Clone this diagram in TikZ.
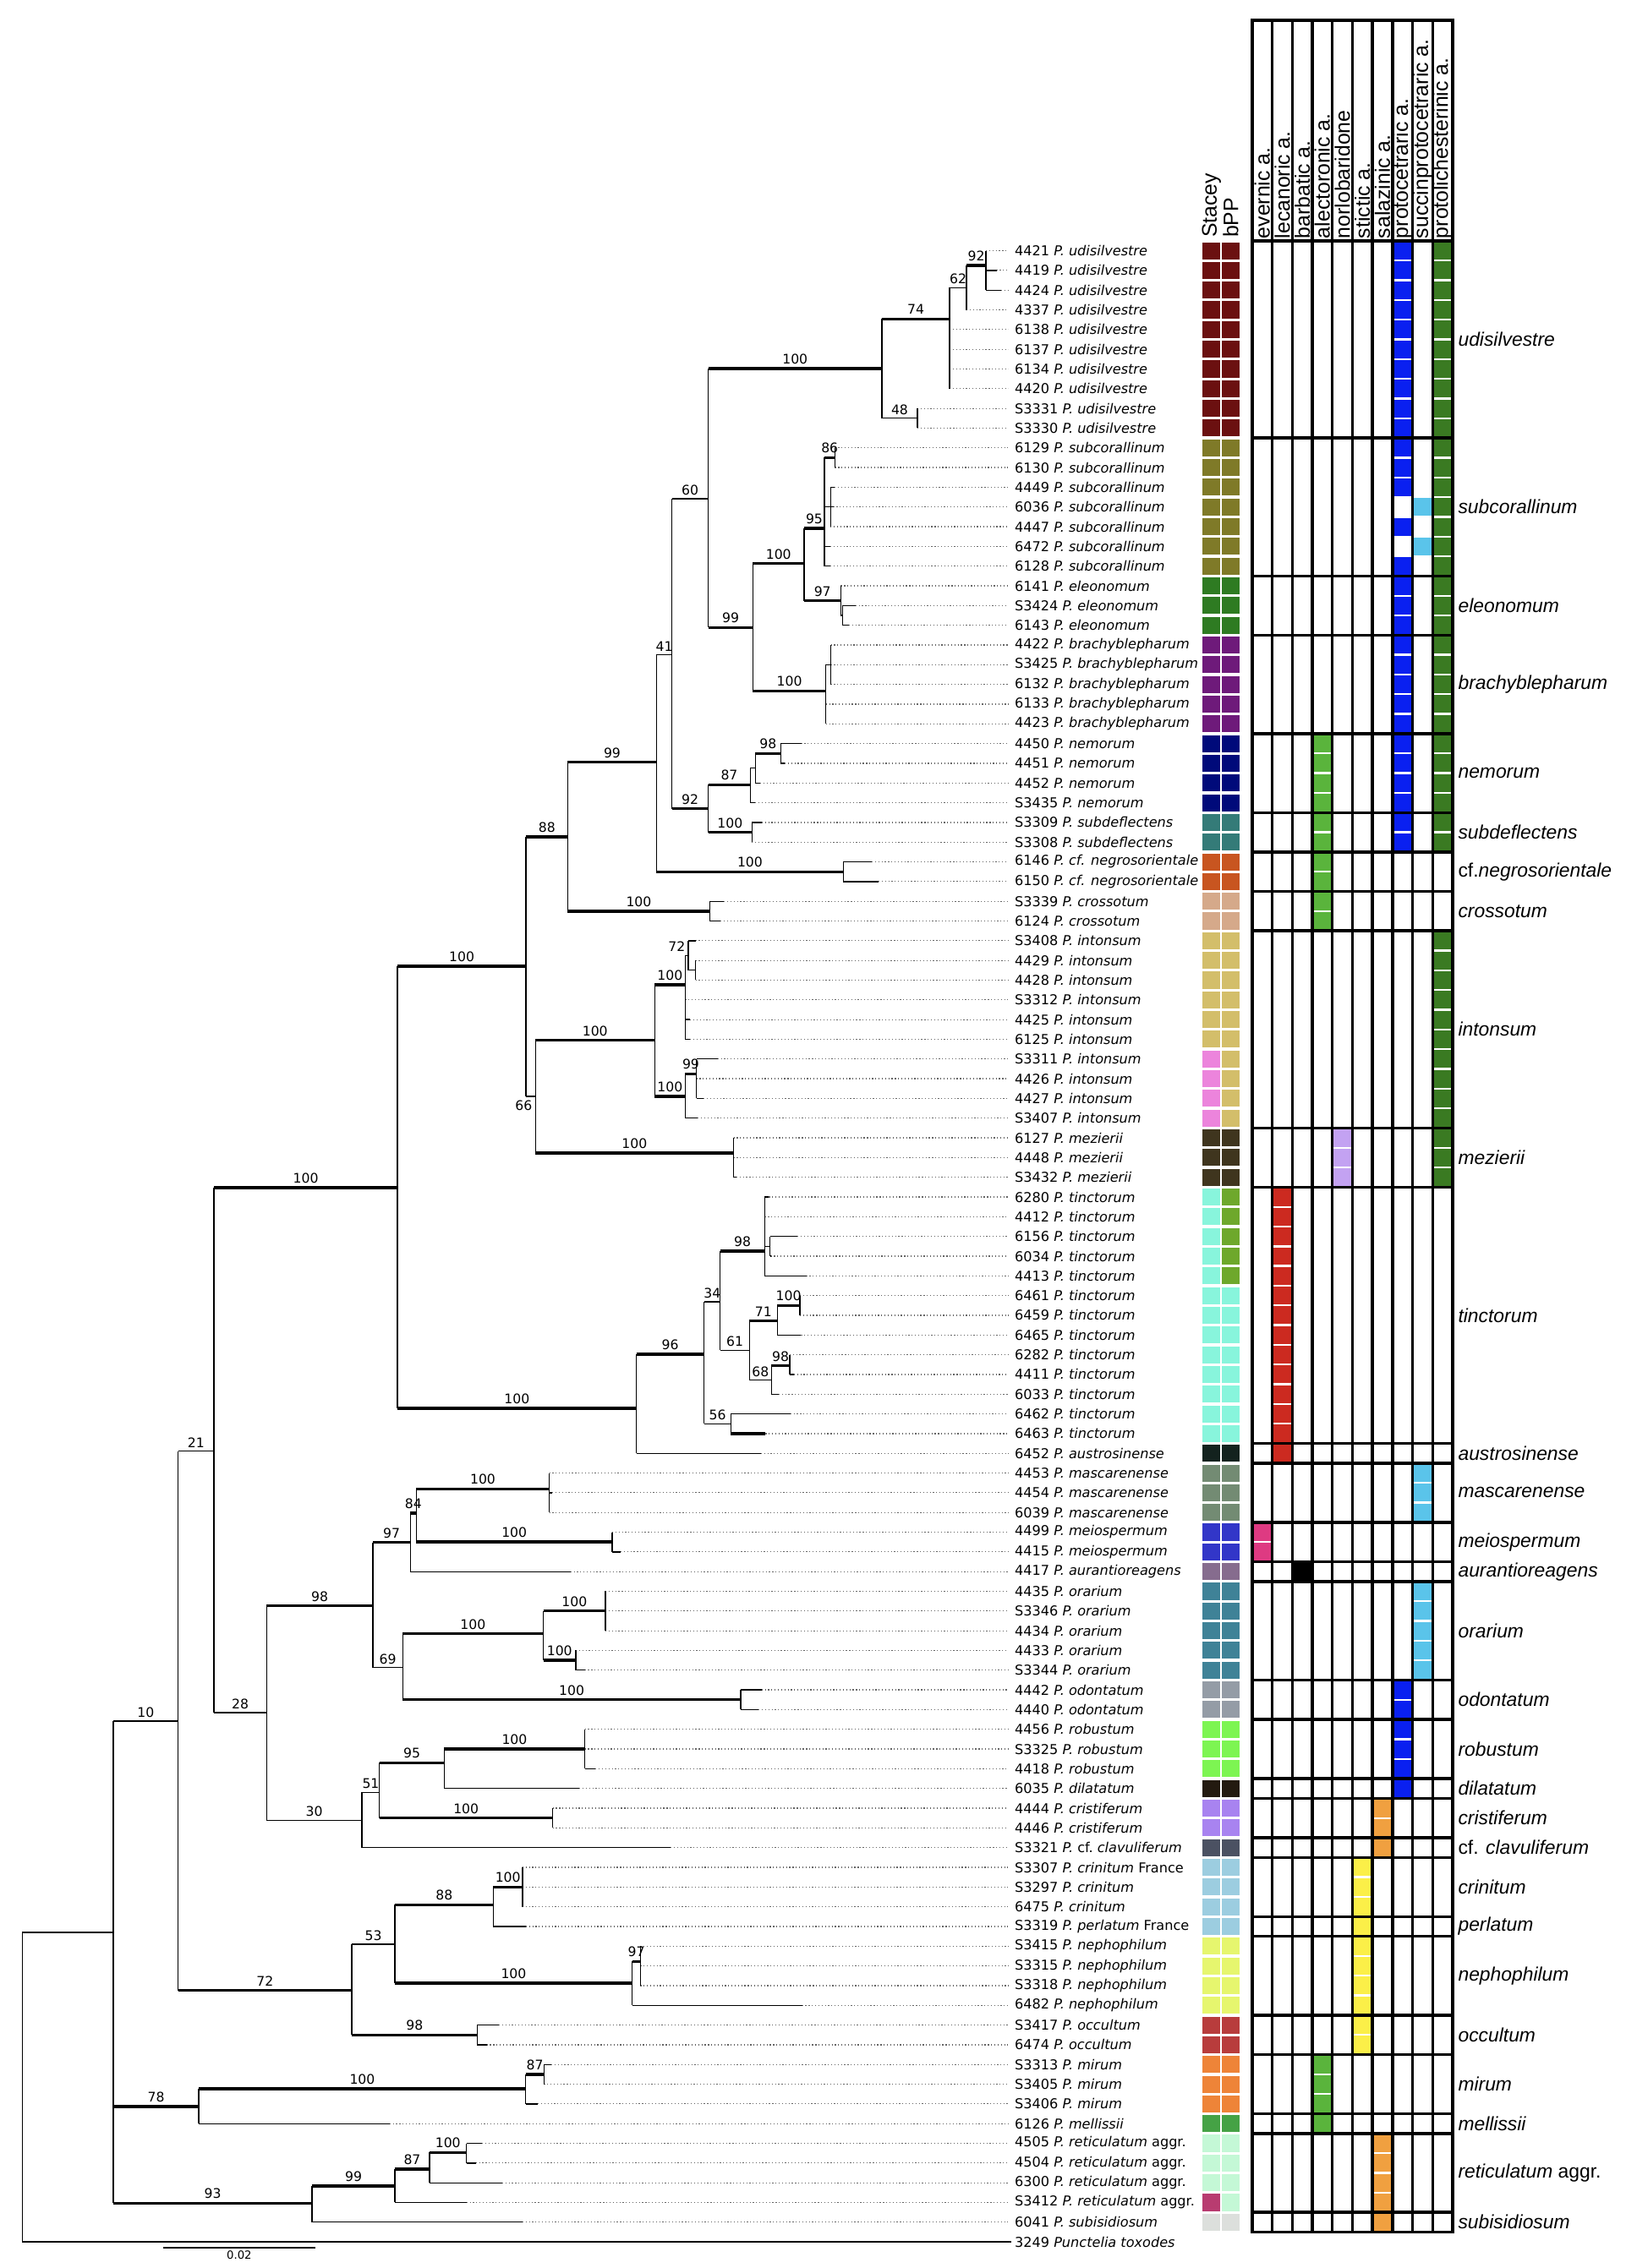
\documentclass[tikz,border=0pt]{standalone}
\usepackage{fontspec}
\setmainfont{DejaVu Sans}
\newfontfamily\lbfont{Liberation Sans}

% species colours (Stacey / bPP)
\definecolor{cUdi}{HTML}{6B1010}
\definecolor{cSubc}{HTML}{7F7A28}
\definecolor{cEleo}{HTML}{2E7B22}
\definecolor{cBrach}{HTML}{6E1A7A}
\definecolor{cNemo}{HTML}{000A7A}
\definecolor{cSubd}{HTML}{347B78}
\definecolor{cNegro}{HTML}{C85520}
\definecolor{cCross}{HTML}{D5A98A}
\definecolor{cInton}{HTML}{D3BE6A}
\definecolor{cIntonS}{HTML}{EC84DC}
\definecolor{cMez}{HTML}{3F351E}
\definecolor{cTinc}{HTML}{88F5DC}
\definecolor{cTincB}{HTML}{6EA82C}
\definecolor{cAustro}{HTML}{13221E}
\definecolor{cMasc}{HTML}{738B73}
\definecolor{cMeio}{HTML}{3236C8}
\definecolor{cAuran}{HTML}{866C8E}
\definecolor{cOrar}{HTML}{3F8297}
\definecolor{cOdont}{HTML}{949CA6}
\definecolor{cRobus}{HTML}{7DF552}
\definecolor{cDilat}{HTML}{231A10}
\definecolor{cCrist}{HTML}{A883F0}
\definecolor{cClav}{HTML}{4B5162}
\definecolor{cCrin}{HTML}{9CCDE0}
\definecolor{cNeph}{HTML}{E6F66E}
\definecolor{cOccul}{HTML}{B83C3C}
\definecolor{cMirum}{HTML}{EE8438}
\definecolor{cMell}{HTML}{45A245}
\definecolor{cReti}{HTML}{C4F8D6}
\definecolor{cRetiS}{HTML}{B83C70}
\definecolor{cSubis}{HTML}{DCDFDC}
% chemistry colours
\definecolor{cEver}{HTML}{DE3A82}
\definecolor{cLeca}{HTML}{CC2A20}
\definecolor{cAlec}{HTML}{5AB43C}
\definecolor{cNorlo}{HTML}{C3A2F2}
\definecolor{cStict}{HTML}{FBEF48}
\definecolor{cSalaz}{HTML}{F0A040}
\definecolor{cProto}{HTML}{0A20F0}
\definecolor{cSucc}{HTML}{5AC4EA}
\definecolor{cLich}{HTML}{3A7A22}

\tikzset{
  tree/.style={line width=0.55pt, black},
  strong/.style={line width=1.4pt, black},
  bs/.style={above, inner sep=1.5pt, font=\fontsize{6.5}{7}\selectfont},
  dots/.style={black!60, line width=0.5pt, dash pattern=on 0.5pt off 1.1pt, shorten >=1.5pt},
  leaf/.style={anchor=west, inner sep=1.5pt, font=\fontsize{6.7}{8}\selectfont},
  grp/.style={anchor=west, inner sep=0pt, font=\lbfont\itshape\fontsize{9.5}{11}\selectfont},
  chem/.style={rotate=90, anchor=west, inner sep=1pt, font=\lbfont\fontsize{10.3}{12}\selectfont},
  grid/.style={line width=1.4pt, black, line cap=rect},
}
% branch: vertical at the parent, horizontal to the child, support value on top
\newcommand\br[4][tree]{%
  \draw[tree] (#2) -- (#2 |- #3);
  \draw[#1] (#2 |- #3) -- node[bs] {#4} (#3);}
% terminal branches to leaf tips
\newcommand\lv[2]{\foreach \rw in {#2} {\br{#1}{t\rw}{}}}

\begin{document}
\begin{tikzpicture}[x=0.25mm, y=-3.4075mm]
  \useasboundingbox (0,-11.715) rectangle (1131,103.325);

  % leaf labels
  \foreach \first/\spc/\sfx/\ids in {
      1/udisilvestre/{}/{4421,4419,4424,4337,6138,6137,6134,4420,S3331,S3330},
      11/subcorallinum/{}/{6129,6130,4449,6036,4447,6472,6128},
      18/eleonomum/{}/{6141,S3424,6143},
      21/brachyblepharum/{}/{4422,S3425,6132,6133,4423},
      26/nemorum/{}/{4450,4451,4452,S3435},
      30/subdeflectens/{}/{S3309,S3308},
      32/cf. negrosorientale/{}/{6146,6150},
      34/crossotum/{}/{S3339,6124},
      36/intonsum/{}/{S3408,4429,4428,S3312,4425,6125,S3311,4426,4427,S3407},
      46/mezierii/{}/{6127,4448,S3432},
      49/tinctorum/{}/{6280,4412,6156,6034,4413,6461,6459,6465,6282,4411,6033,6462,6463},
      62/austrosinense/{}/{6452},
      63/mascarenense/{}/{4453,4454,6039},
      66/meiospermum/{}/{4499,4415},
      68/aurantioreagens/{}/{4417},
      69/orarium/{}/{4435,S3346,4434,4433,S3344},
      74/odontatum/{}/{4442,4440},
      76/robustum/{}/{4456,S3325,4418},
      79/dilatatum/{}/{6035},
      80/cristiferum/{}/{4444,4446},
      82/{{\upshape cf.}~clavuliferum}/{}/{S3321},
      83/crinitum/{\ France}/{S3307},
      84/crinitum/{}/{S3297,6475},
      86/perlatum/{\ France}/{S3319},
      87/nephophilum/{}/{S3415,S3315,S3318,6482},
      91/occultum/{}/{S3417,6474},
      93/mirum/{}/{S3313,S3405,S3406},
      96/mellissii/{}/{6126},
      97/reticulatum/{\ aggr.}/{4505,4504,6300,S3412},
      101/subisidiosum/{}/{6041}} {
    \foreach \id [count=\rw from \first] in \ids
      \node[leaf] (l\rw) at (699,\rw) {\id\ \textit{P.~\spc}\sfx};
  }
  \node[leaf] (l102) at (699,102) {3249 \textit{Punctelia toxodes}};

  % leaf tips
  \foreach \rw/\tx in {1/681.5,2/688.8,3/691.9,4/668,5/656.4,6/656.4,7/656.4,8/656.4,
      9/634.1,10/634.1,11/577.1,12/577.1,13/577,14/576,15/574,16/574,17/574,
      18/581.2,19/591.3,20/586.7,21/574.2,22/574.2,23/574.2,24/570.8,25/570.8,
      26/553.8,27/542.4,28/525.4,29/522,30/526.5,31/519.7,32/602.6,33/607.2,
      34/500.4,35/498.1,36/480.7,37/480.7,38/480.7,39/473.6,40/477,41/477,
      42/496,43/481.3,44/486.4,45/482.3,46/507,47/507,48/509,49/531.5,50/528.6,
      51/551.2,52/532.7,53/557.3,54/552.9,55/552.9,56/553.7,57/545.8,58/548.7,
      59/538.2,60/546.3,61/529.1,62/525.9,63/379.6,64/381.7,65/379.6,66/423.1,
      67/429,68/394.3,69/418.5,70/418.5,71/418.5,72/398,73/404.2,74/526.4,
      75/524.3,76/404.2,77/404.2,78/411.6,79/400.4,80/382,81/382,82/463.6,
      83/361.1,84/361.1,85/361.1,86/363.4,87/442.6,88/442.6,89/442.6,90/554.4,
      91/344.8,92/336.4,93/381.1,94/376,95/371.8,96/269.3,97/333.1,98/328.9,
      99/347.1,100/322.4,101/361.1}
    \coordinate (t\rw) at (\tx,\rw);
  \foreach \rw in {1,...,101}
    \draw[dots] (t\rw) -- (l\rw.west);

  % internal nodes
  \foreach \nm/\xx/\yy in {root/15.4/94.2, nin/78.3/86.3, n10/123.1/75.58,
      n21/147.9/61.89, ntop/274.7/48.53, n100g/363.6/37.3, n88/392.4/30.74,
      n99/453.8/26.95, n41/464.5/21.5, n60/489.5/13.58, n100a/609.5/6.98,
      n74/656.4/4.46, n62/668/2.875, n92u/681.5/1.75, n48/634.1/9.5,
      n99b/520.4/20.11, n100b/555.8/16.87, n95/569.8/15.08, n86/577.1/11.5,
      n95s/574/14, n97/581.2/18.76, n97s/582.3/19.5, n100c/570.8/23.33,
      n100cs/574.2/22, n92/489.5/29.3, n87/518.6/28.09, n87s/522/27.25,
      n98/539.7/26.5, n100d/519.7/30.5, n100e/582.9/32.5, n100f/490.6/34.5,
      n66/370.1/43.9, n100h/452.5/41.05, n100j/473.6/38.24, n72/475.8/36.75,
      n72s/480.7/37.5, n100k/473.6/43.9, n99c/481.3/42.75, n99cs/481.3/43.5,
      n100i/507/46.77, n100n/439.8/59.72, n96/486.7/56.97, n34/497.8/54.32,
      n98t/528.6/51.74, n98ts/532.3/51.5, n61/518/56.77, n71/537.2/55.29,
      n100t/552.9/54.5, n68/533.2/58.29, n98u/545.8/57.56, n56/505.2/60.5,
      n28/184.2/75.15, n98m/257.8/69.74, n97m/283.6/66.52, n84/287.8/65.04,
      n100ma/379.6/63.8, n100me/423.1/66.5, n69/278.3/72.86, n100or/375.5/71.15,
      n100o1/418.5/70, n100o2/398/72.5, n100od/512/74.5, n30/250.2/80.61,
      n51/262.3/79.2, n95r/307/77.7, n100ro/404.2/77, n100cr/382/80.5,
      n72n/243.2/89.24, n53/273/86.9, n88c/341/84.9, n100c2/361.1/84,
      n100ne/437/88.88, n97ne/442.6/87.77, n98oc/329.9/91.5, n78/137.4/95.14,
      n100mi/363.4/94.24, n87mi/376/93.5, n93/215.7/100.04, n99re/273/99.17,
      n87re/296.8/98.3, n100re/322.4/97.46}
    \coordinate (\nm) at (\xx,\yy);

  % backbone
  \br{root}{nin}{}
  \draw[tree] (root) |- (l102.west);
  \br{nin}{n10}{10}
  \br[strong]{nin}{n78}{78}
  \br[strong]{nin}{n93}{93}
  \br{n10}{n21}{21}
  \br[strong]{n10}{n72n}{72}
  \br[strong]{n21}{ntop}{100}
  \br{n21}{n28}{28}
  \br[strong]{ntop}{n100g}{100}
  \br[strong]{ntop}{n100n}{100}

  % upper clade
  \br[strong]{n100g}{n88}{88}
  \br{n100g}{n66}{}
  \node[font=\fontsize{6.5}{7}\selectfont] (b66) at (362,44.35) {66};
  \br[strong]{n88}{n99}{99}
  \br[strong]{n88}{n100f}{100}
  \br{n99}{n41}{41}
  \br[strong]{n99}{n100e}{100}
  \br{n41}{n60}{60}
  \br[strong]{n41}{n92}{92}
  \br[strong]{n60}{n100a}{100}
  \br[strong]{n60}{n99b}{99}
  \br[strong]{n100a}{n74}{74}
  \br{n100a}{n48}{48}
  \br{n74}{n62}{62}
  \br[strong]{n62}{n92u}{92}
  \lv{n92u}{1,2,3} \lv{n62}{4} \lv{n74}{5,6,7,8} \lv{n48}{9,10}
  \br[strong]{n99b}{n100b}{100}
  \br[strong]{n99b}{n100c}{100}
  \br[strong]{n100b}{n95}{95}
  \br[strong]{n100b}{n97}{97}
  \br[strong]{n95}{n86}{86}
  \br{n95}{n95s}{}
  \lv{n86}{11,12} \lv{n95s}{13,14,15} \lv{n95}{16,17}
  \br{n97}{n97s}{}
  \lv{n97}{18} \lv{n97s}{19,20}
  \br{n100c}{n100cs}{}
  \lv{n100cs}{21,22,23} \lv{n100c}{24,25}
  \br[strong]{n92}{n87}{87}
  \br[strong]{n92}{n100d}{100}
  \br{n87}{n87s}{}
  \br[strong]{n87s}{n98}{98}
  \lv{n98}{26,27} \lv{n87s}{28} \lv{n87}{29} \lv{n100d}{30,31}
  \lv{n100e}{32,33} \lv{n100f}{34,35}
  \br[strong]{n66}{n100h}{100}
  \br[strong]{n66}{n100i}{100}
  \br[strong]{n100h}{n100j}{100}
  \br[strong]{n100h}{n100k}{100}
  \br{n100j}{n72}{}
  \node[font=\fontsize{6.5}{7}\selectfont] (b72) at (467.8,36.3) {72};
  \br{n72}{n72s}{}
  \lv{n72}{36} \lv{n72s}{37,38} \lv{n100j}{39,40,41}
  \br[strong]{n100k}{n99c}{99}
  \br{n99c}{n99cs}{}
  \lv{n99c}{42} \lv{n99cs}{43,44} \lv{n100k}{45}
  \lv{n100i}{46,47,48}

  % tinctorum clade
  \br[strong]{n100n}{n96}{96}
  \lv{n100n}{62}
  \br{n96}{n34}{34}
  \br{n96}{n56}{56}
  \br[strong]{n34}{n98t}{98}
  \br{n34}{n61}{61}
  \br{n98t}{n98ts}{}
  \lv{n98t}{49,50,53} \lv{n98ts}{51,52}
  \br[strong]{n61}{n71}{71}
  \br{n61}{n68}{68}
  \br[strong]{n71}{n100t}{100}
  \lv{n100t}{54,55} \lv{n71}{56}
  \br[strong]{n68}{n98u}{98}
  \lv{n98u}{57,58} \lv{n68}{59}
  \lv{n56}{60}
  \br[strong]{n56}{t61}{}

  % lower clades
  \br[strong]{n28}{n98m}{98}
  \br{n28}{n30}{30}
  \br[strong]{n98m}{n97m}{97}
  \br{n98m}{n69}{69}
  \br[strong]{n97m}{n84}{84}
  \lv{n97m}{68}
  \br[strong]{n84}{n100ma}{100}
  \br[strong]{n84}{n100me}{100}
  \lv{n100ma}{63,64,65} \lv{n100me}{66,67}
  \br[strong]{n69}{n100or}{100}
  \br[strong]{n69}{n100od}{100}
  \br[strong]{n100or}{n100o1}{100}
  \br[strong]{n100or}{n100o2}{100}
  \lv{n100o1}{69,70,71} \lv{n100o2}{72,73} \lv{n100od}{74,75}
  \br{n30}{n51}{51}
  \lv{n30}{82}
  \br[strong]{n51}{n95r}{95}
  \br[strong]{n51}{n100cr}{100}
  \br[strong]{n95r}{n100ro}{100}
  \lv{n100ro}{76,77,78} \lv{n95r}{79} \lv{n100cr}{80,81}
  \br{n72n}{n53}{53}
  \br[strong]{n72n}{n98oc}{98}
  \br[strong]{n53}{n88c}{88}
  \br[strong]{n53}{n100ne}{100}
  \br[strong]{n88c}{n100c2}{100}
  \lv{n100c2}{83,84,85} \lv{n88c}{86}
  \br[strong]{n100ne}{n97ne}{97}
  \lv{n97ne}{87,88,89} \lv{n100ne}{90}
  \lv{n98oc}{91,92}
  \br[strong]{n78}{n100mi}{100}
  \lv{n78}{96}
  \br[strong]{n100mi}{n87mi}{87}
  \lv{n87mi}{93,94} \lv{n100mi}{95}
  \br[strong]{n93}{n99re}{99}
  \lv{n93}{101}
  \br[strong]{n99re}{n87re}{87}
  \lv{n99re}{100}
  \br[strong]{n87re}{n100re}{100}
  \lv{n87re}{99} \lv{n100re}{97,98}

  % scale bar
  \coordinate (sb1) at (112.7,102.3);
  \coordinate (sb2) at (218,102.3);
  \draw[line width=0.6pt] (sb1) -- node[below, inner sep=1pt, font=\fontsize{5.5}{6}\selectfont] {0.02} (sb2);

  % Stacey and bPP boxes
  \node[chem] (stacey) at (837.4,0.45) {Stacey};
  \node[chem] (bpp) at (850.6,0.45) {bPP};
  \foreach \a/\b/\ca/\cb in {1/10/cUdi/cUdi, 11/17/cSubc/cSubc, 18/20/cEleo/cEleo,
      21/25/cBrach/cBrach, 26/29/cNemo/cNemo, 30/31/cSubd/cSubd, 32/33/cNegro/cNegro,
      34/35/cCross/cCross, 36/41/cInton/cInton, 42/45/cIntonS/cInton, 46/48/cMez/cMez,
      49/53/cTinc/cTincB, 54/61/cTinc/cTinc, 62/62/cAustro/cAustro, 63/65/cMasc/cMasc,
      66/67/cMeio/cMeio, 68/68/cAuran/cAuran, 69/73/cOrar/cOrar, 74/75/cOdont/cOdont,
      76/78/cRobus/cRobus, 79/79/cDilat/cDilat, 80/81/cCrist/cCrist, 82/82/cClav/cClav,
      83/86/cCrin/cCrin, 87/90/cNeph/cNeph, 91/92/cOccul/cOccul, 93/95/cMirum/cMirum,
      96/96/cMell/cMell, 97/99/cReti/cReti, 100/100/cRetiS/cReti, 101/101/cSubis/cSubis}
    \foreach \rw in {\a,...,\b} {
      \fill[\ca] (831.2,\rw-0.43) rectangle (843.6,\rw+0.43);
      \fill[\cb] (844.4,\rw-0.43) rectangle (856.8,\rw+0.43);
    }

  % chemistry table
  \foreach \c/\a/\b/\col in {8/1/13/cProto, 8/15/15/cProto, 8/17/31/cProto, 8/74/79/cProto,
      9/14/14/cSucc, 9/16/16/cSucc, 9/63/65/cSucc, 9/69/73/cSucc, 10/1/31/cLich,
      10/36/48/cLich, 4/26/35/cAlec, 4/93/96/cAlec, 5/46/48/cNorlo, 2/49/62/cLeca,
      1/66/67/cEver, 3/68/68/black, 6/83/92/cStict, 7/80/82/cSalaz, 7/97/101/cSalaz}
    \foreach \rw in {\a,...,\b}
      \fill[\col] ({865.5+(\c-1)*13.85+1},\rw-0.45) rectangle ({865.5+\c*13.85-1},\rw+0.45);
  \foreach \k in {0,...,10}
    \draw[grid] ({865.5+\k*13.85},-10.69) -- ({865.5+\k*13.85},101.5);
  \draw[grid] (865.5,-10.69) -- (1004,-10.69);
  \foreach \rw in {0,10,17,20,25,29,31,33,35,45,48,61,62,65,67,68,73,75,78,79,81,82,85,86,90,92,95,96,100,101}
    \draw[grid] (865.5,\rw+0.5) -- (1004,\rw+0.5);
  \foreach \c/\txt in {1/evernic a., 2/lecanoric a., 3/barbatic a., 4/alectoronic a.,
      5/norlobaridone, 6/stictic a., 7/salazinic a., 8/protocetraric a.,
      9/succinprotocetraric a., 10/protolichesterinic a.}
    \node[chem] (h\c) at ({865.5+(\c-0.5)*13.85},0.5) {\txt};

  % species groups
  \foreach \rw/\txt [count=\k] in {5.5/udisilvestre, 14/subcorallinum, 19/eleonomum,
      23/brachyblepharum, 27.5/nemorum, 30.5/subdeflectens,
      32.5/{{\upshape cf.}negrosorientale}, 34.5/crossotum, 40.5/intonsum, 47/mezierii,
      55/tinctorum, 62/austrosinense, 64/mascarenense, 66.5/meiospermum,
      68/aurantioreagens, 71/orarium, 74.5/odontatum, 77/robustum, 79/dilatatum,
      80.5/cristiferum, 82/{{\upshape cf.} clavuliferum}, 84/crinitum, 86/perlatum,
      88.5/nephophilum, 91.5/occultum, 94/mirum, 96/mellissii,
      98.5/{reticulatum {\upshape aggr.}}, 101/subisidiosum}
    \node[grp] (g\k) at (1007.6,\rw) {\txt};
\end{tikzpicture}
\end{document}
